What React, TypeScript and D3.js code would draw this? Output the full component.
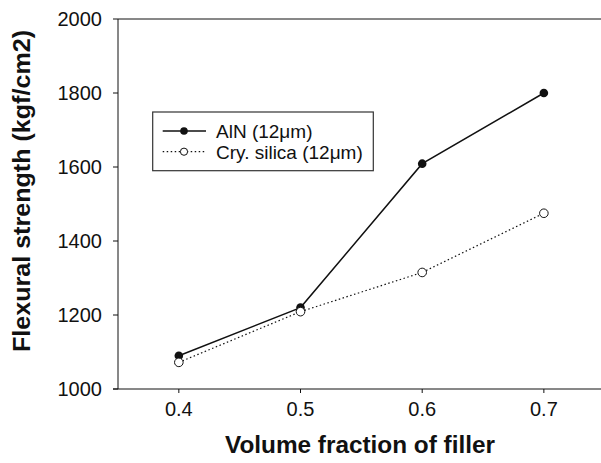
import React from "react";
import * as d3 from "d3";

const xValues = [0.4, 0.5, 0.6, 0.7];
const alnValues = [1090, 1220, 1609, 1800];
const silicaValues = [1072, 1209, 1315, 1475];
const yTicks = [1000, 1200, 1400, 1600, 1800, 2000];
const xTicks = [0.4, 0.5, 0.6, 0.7];
const seriesNames = ["AlN (12\u03bcm)", "Cry. silica (12\u03bcm)"];

const W = 601;
const H = 463;
const FONT = "Arial, 'Liberation Sans', Helvetica, sans-serif";

export default function App() {
  const x = d3.scaleLinear().domain([0.35, 0.75]).range([118, 604.7]);
  const y = d3.scaleLinear().domain([1000, 2000]).range([389, 19]);
  const line = d3
    .line<[number, number]>()
    .x((d) => x(d[0]))
    .y((d) => y(d[1]));
  const alnPts: [number, number][] = xValues.map((v, i) => [v, alnValues[i]]);
  const silPts: [number, number][] = xValues.map((v, i) => [v, silicaValues[i]]);

  return (
    <svg
      width={W}
      height={H}
      style={{ position: "absolute", left: 0, top: 0, background: "#fff" }}
      fontFamily={FONT}
    >
      <rect width={W} height={H} fill="#fff" />
      {/* frame */}
      <line x1={118} x2={W} y1={19} y2={19} stroke="#111" strokeWidth={1} />
      <line x1={118} x2={118} y1={19} y2={389} stroke="#111" strokeWidth={1} />
      <line x1={113} x2={W} y1={389} y2={389} stroke="#111" strokeWidth={1} />
      {/* y ticks */}
      {yTicks.map((t) => (
        <g key={t}>
          <line x1={113} x2={118} y1={y(t)} y2={y(t)} stroke="#111" />
          <text
            x={102}
            y={y(t) + 7}
            fontSize={20}
            textAnchor="end"
            fill="#111"
          >
            {t}
          </text>
        </g>
      ))}
      {/* x ticks */}
      {xTicks.map((t) => (
        <g key={t}>
          <line x1={x(t)} x2={x(t)} y1={389} y2={393} stroke="#111" />
          <text
            x={x(t)}
            y={416}
            fontSize={20}
            textAnchor="middle"
            fill="#111"
          >
            {t.toFixed(1)}
          </text>
        </g>
      ))}
      {/* axis titles */}
      <text
        x={360}
        y={453}
        fontSize={23}
        fontWeight="bold"
        textAnchor="middle"
        textLength={270}
        lengthAdjust="spacingAndGlyphs"
        fill="#111"
      >
        Volume fraction of filler
      </text>
      <text
        transform="translate(30,191) rotate(-90)"
        fontSize={24}
        fontWeight="bold"
        textAnchor="middle"
        textLength={322}
        lengthAdjust="spacingAndGlyphs"
        fill="#111"
      >
        Flexural strength (kgf/cm2)
      </text>
      {/* series */}
      <path d={line(silPts) || ""} fill="none" stroke="#111" strokeWidth={1.2} strokeDasharray="1.5,2.5" />
      <path d={line(alnPts) || ""} fill="none" stroke="#111" strokeWidth={1.5} />
      {alnPts.map((p, i) => (
        <circle key={"a" + i} cx={x(p[0])} cy={y(p[1])} r={4.3} fill="#111" />
      ))}
      {silPts.map((p, i) => (
        <circle key={"s" + i} cx={x(p[0])} cy={y(p[1])} r={4.3} fill="#fff" stroke="#111" strokeWidth={1} />
      ))}
      {/* legend */}
      <rect x={152.7} y={112} width={220.6} height={58.7} fill="#fff" stroke="#333" strokeWidth={1.2} />
      <line x1={162.7} x2={206} y1={131} y2={131} stroke="#111" strokeWidth={1.5} />
      <circle cx={184} cy={131} r={3.8} fill="#111" />
      <text x={216} y={138} fontSize={19} fill="#111">
        {seriesNames[0]}
      </text>
      <line x1={162.7} x2={206} y1={151.7} y2={151.7} stroke="#111" strokeWidth={1.2} strokeDasharray="1.5,2.5" />
      <circle cx={184} cy={151.7} r={3.6} fill="#fff" stroke="#111" strokeWidth={1} />
      <text x={216} y={158.7} fontSize={19} fill="#111">
        {seriesNames[1]}
      </text>
    </svg>
  );
}
